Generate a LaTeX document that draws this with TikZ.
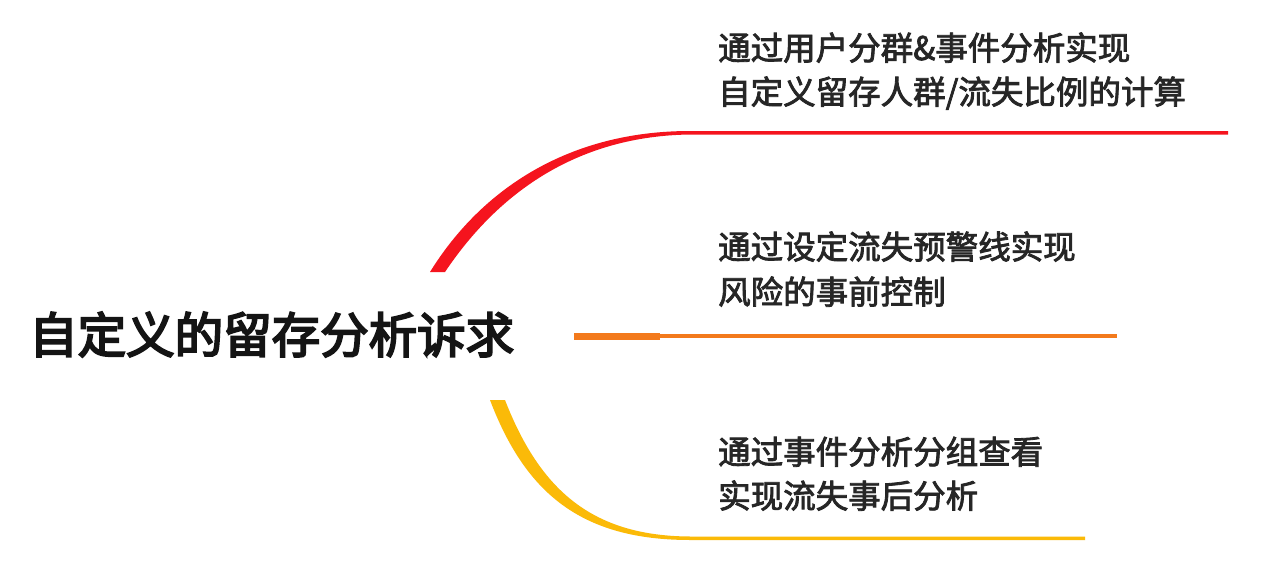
\documentclass[tikz,border=0pt]{standalone}
\usepackage{fontspec}
\setmainfont{Noto Sans CJK SC}
\newfontfamily\leaffont{Noto Sans CJK SC}[FakeBold=2.5]
\newfontfamily\rootfont{Noto Sans CJK SC}[FakeBold=4]
\definecolor{bred}{HTML}{F5141E}
\definecolor{borange}{HTML}{F37A1C}
\definecolor{byellow}{HTML}{FBBA08}
\definecolor{txt}{HTML}{262626}
\definecolor{rtxt}{HTML}{141414}
\tikzset{
  leaf/.style={anchor=base west, inner sep=0pt, text=txt, font=\leaffont\fontsize{32.5}{44}\selectfont, align=left},
  rootlbl/.style={anchor=base west, inner sep=0pt, text=rtxt, font=\rootfont\fontsize{48.5}{56}\selectfont},
}
\begin{document}
\begin{tikzpicture}[x=1pt,y=-1pt]
\useasboundingbox[fill=white] (0,0) rectangle (1267,570);
% root label
\node[rootlbl] (root) at (29,353) {自定义的留存分析诉求};
% leaf labels
\node[leaf] (l1a) at (718,60) {通过用户分群\&事件分析实现};
\node[leaf] (l1b) at (718,104) {自定义留存人群/流失比例的计算};
\node[leaf] (l2a) at (718,259) {通过设定流失预警线实现};
\node[leaf] (l2b) at (718,304) {风险的事前控制};
\node[leaf] (l3a) at (718,464) {通过事件分析分组查看};
\node[leaf] (l3b) at (718,508) {实现流失事后分析};
% red branch (tapered)
\fill[bred] (430,272) .. controls (482,188) and (570,131) .. (690,131) -- (1228,131)
  -- (1228,134.5) -- (690,134.5) .. controls (580,136) and (500,190) .. (445,272) -- cycle;
% orange branch
\fill[borange] (574,332.5) rectangle (660,339.5);
\fill[borange] (660,334.3) rectangle (1117,337.8);
% yellow branch (tapered)
\fill[byellow] (490,400) .. controls (525,492) and (580,540) .. (690,540) -- (1085,540)
  -- (1085,536.5) -- (690,536.5) .. controls (592,536) and (540,490) .. (505,400) -- cycle;
\end{tikzpicture}
\end{document}
